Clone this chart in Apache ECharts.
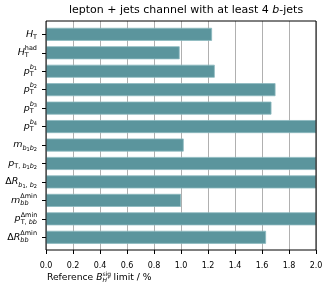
<!DOCTYPE html>
<html><head><meta charset="utf-8">
<script src="https://cdn.jsdelivr.net/npm/echarts@6/dist/echarts.min.js"></script>
<style>html,body{margin:0;padding:0;background:#fff}#c{width:330px;height:286px}</style>
</head><body><div id="c"></div>
<script>
// Category labels (rich text), top to bottom
var categories = [
  '{i|H}{sub|T}',
  '{i|H}{sub|T}{supT|had}',
  '{i|p}{sub|T}{supiT|b}{supsub|1}',
  '{i|p}{sub|T}{supiT|b}{supsub|2}',
  '{i|p}{sub|T}{supiT|b}{supsub|3}',
  '{i|p}{sub|T}{supiT|b}{supsub|4}',
  '{i|m}{subi|b}{subsub|1}{subi|b}{subsub|2}',
  '{i|p}{sub|T, }{subi|b}{subsub|1}{subi|b}{subsub|2}',
  '{r|Δ}{i|R}{subi|b}{subsub|1}{sub|, }{subi|b}{subsub|2}',
  '{i|m}{subi|bb}{supBB|Δmin}',
  '{i|p}{sup|Δmin}{subD|T, }{subi|bb}',
  '{r|Δ}{i|R}{subi|bb}{supBB|Δmin}'
];
// Reference limit values (%), bars reaching the frame are clipped at 2.0
var limits = [1.23, 0.99, 1.25, 1.70, 1.67, 2.0, 1.02, 2.0, 2.0, 1.00, 2.0, 1.63];
var xTicks = [0.0, 0.2, 0.4, 0.6, 0.8, 1.0, 1.2, 1.4, 1.6, 1.8, 2.0];

var F = 'DejaVu Sans';
var M = 9.5, S = 6.5, SS = 5;
var wT = 0.611 * S, wBB = 1.27 * S, wDmin = 2.57 * S;
function st(o) {
  var b = {fontFamily: F, color: '#000', verticalAlign: 'middle'};
  for (var k in o) b[k] = o[k];
  return b;
}
var rich = {
  r: st({fontSize: M}),
  i: st({fontSize: M, fontStyle: 'italic'}),
  sub: st({fontSize: S, padding: [6, 0, 0, 0]}),
  subD: st({fontSize: S, padding: [6, 0, 0, -wDmin]}),
  subi: st({fontSize: S, fontStyle: 'italic', padding: [6, 0, 0, 0]}),
  subsub: st({fontSize: SS, padding: [9, 0, 0, 0]}),
  sup: st({fontSize: S, padding: [0, 0, 8, 0]}),
  supT: st({fontSize: S, padding: [0, 0, 8, -wT]}),
  supBB: st({fontSize: S, padding: [0, 0, 8, -wBB]}),
  supiT: st({fontSize: S, fontStyle: 'italic', padding: [0, 0, 8, -wT]}),
  supsub: st({fontSize: SS, padding: [0, 0, 5, 0]})
};

var chart = echarts.init(document.getElementById('c'), null, {renderer: 'canvas'});
chart.setOption({
  animation: false,
  backgroundColor: '#fff',
  title: {
    text: 'lepton + jets channel with at least 4 {i|b}-jets',
    left: 181, top: 0, textAlign: 'center',
    textStyle: {fontFamily: F, fontSize: 11, fontWeight: 'normal', color: '#000',
      rich: {i: {fontFamily: F, fontSize: 11, fontStyle: 'italic', color: '#000'}}}
  },
  grid: [
    {left: 46, right: 14, top: 21, bottom: 36, show: true, borderColor: '#000', borderWidth: 1, backgroundColor: 'transparent', z: 5},
    {left: 46, right: 14, top: 25.1, bottom: 39.5}
  ],
  xAxis: [
    {gridIndex: 0, type: 'value', min: 0, max: 2, interval: 0.2,
     axisLine: {show: false},
     axisTick: {show: true, length: 4, lineStyle: {color: '#000', width: 1}},
     axisLabel: {margin: 12, fontFamily: F, fontSize: 8, color: '#000',
       formatter: function (v) { return v.toFixed(1); }},
     splitLine: {show: true, lineStyle: {color: '#b0b0b0', width: 1}}},
    {gridIndex: 1, type: 'value', min: 0, max: 2, show: false}
  ],
  yAxis: [
    {gridIndex: 0, type: 'value', show: false},
    {gridIndex: 1, type: 'category', inverse: true, data: categories,
     axisLine: {show: false},
     axisTick: {show: true, alignWithLabel: true, length: 4, lineStyle: {color: '#000', width: 1}},
     axisLabel: {interval: 0, margin: 9, rich: rich, fontFamily: F, fontSize: M, color: '#000'},
     splitLine: {show: false}}
  ],
  series: [{
    type: 'bar', xAxisIndex: 1, yAxisIndex: 1, data: limits,
    barWidth: 13, clip: true,
    itemStyle: {color: '#5b959d', borderColor: '#8cb9bf', borderWidth: 0.8},
    z: 2
  }],
  graphic: [{
    type: 'text', left: 47, top: 271,
    style: {
      text: 'Reference {i|B}{sup|sig}{subS|H}{subsup|+} limit / %',
      fontFamily: F, fontSize: 9.2, fill: '#000',
      rich: {
        i: st({fontSize: 9.2, fontStyle: 'italic'}),
        sup: st({fontSize: 6, padding: [0, 0, 7, 0]}),
        subS: st({fontSize: 6, fontStyle: 'italic', padding: [5, 0, 0, -1.434 * 6]}),
        subsup: st({fontSize: 4.4, padding: [0, 0, 0, 0]})
      }
    }
  }]
});
</script></body></html>
